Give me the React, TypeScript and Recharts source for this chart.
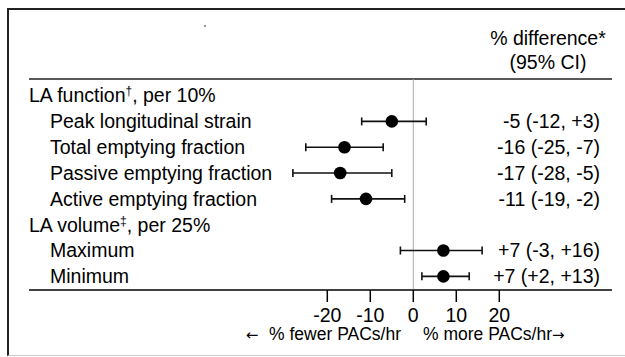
import React from "react";
import {
  ScatterChart,
  Scatter,
  XAxis,
  YAxis,
  ErrorBar,
  ReferenceLine,
  Customized,
} from "recharts";

// ---- data ----
const groupNames = ["LA function", "LA volume"];
const groupMarks = ["\u2020", "\u2021"];
const groupUnits = [", per 10%", ", per 25%"];
const groupRows = [0, 5];

const measures = [
  "Peak longitudinal strain",
  "Total emptying fraction",
  "Passive emptying fraction",
  "Active emptying fraction",
  "Maximum",
  "Minimum",
];
const measureRows = [1, 2, 3, 4, 6, 7];
const estimates = [-5, -16, -17, -11, 7, 7];
const lowerCI = [-12, -25, -28, -19, -3, 2];
const upperCI = [3, -7, -5, -2, 16, 13];

const xTicks = [-20, -10, 0, 10, 20];
const rowTicks = [0, 1, 2, 3, 4, 5, 6, 7];

const headerLines = ["% difference*", "(95% CI)"];
const captionLeft = " % fewer PACs/hr";
const captionRight = "% more PACs/hr";
const arrowLeft = "\u2190";
const arrowRight = "\u2192";

// ---- layout ----
const W = 625;
const H = 357;
const FONT = "'Liberation Sans', Arial, Helvetica, sans-serif";
const ARROW_FONT = "'DejaVu Sans', sans-serif";
const FS = 19.5;
const X_MIN = -89.37;
const X_MAX = 46.21;
const Y_MIN = -0.642;
const Y_MAX = 7.528;

const fmt = (v: number) => (v > 0 ? `+${v}` : `${v}`);

const data = measures.map((m, i) => ({
  name: m,
  x: estimates[i],
  y: measureRows[i],
  err: [estimates[i] - lowerCI[i], upperCI[i] - estimates[i]],
}));

const renderRowTick = (props: any) => {
  const { y, payload } = props;
  const row = payload.value;
  const g = groupRows.indexOf(row);
  if (g >= 0) {
    return (
      <text x={29} y={y} dy="0.35em" fontSize={FS} fill="#000" fontFamily={FONT} textAnchor="start">
        <tspan>{groupNames[g]}</tspan>
        <tspan dy={-7} fontSize={12}>{groupMarks[g]}</tspan>
        <tspan dy={7}>{groupUnits[g]}</tspan>
      </text>
    );
  }
  const i = measureRows.indexOf(row);
  if (i < 0) return <g />;
  return (
    <g>
      <text x={50} y={y} dy="0.35em" fontSize={FS} fill="#000" fontFamily={FONT} textAnchor="start">
        {measures[i]}
      </text>
      <text x={600} y={y} dy="0.35em" fontSize={FS} fill="#000" fontFamily={FONT} textAnchor="end">
        {`${fmt(estimates[i])} (${fmt(lowerCI[i])}, ${fmt(upperCI[i])})`}
      </text>
    </g>
  );
};

const Extras = () => (
  <g fontFamily={FONT} fill="#000">
    <text x={548} y={45} fontSize={FS} textAnchor="middle">{headerLines[0]}</text>
    <text x={548} y={69} fontSize={FS} textAnchor="middle">{headerLines[1]}</text>
    <text x={401} y={340} fontSize={17.5} textAnchor="end">
      <tspan fontFamily={ARROW_FONT} fontSize={15}>{arrowLeft}</tspan>
      <tspan dx={6}>{captionLeft}</tspan>
    </text>
    <text x={423} y={340} fontSize={17.5} textAnchor="start">
      <tspan>{captionRight}</tspan>
      <tspan fontFamily={ARROW_FONT} fontSize={15}>{arrowRight}</tspan>
    </text>
    <rect x={204} y={25} width={2} height={2} fill="#999" />
  </g>
);

export default function App() {
  return (
    <div
      style={{
        position: "absolute",
        left: 0,
        top: 0,
        width: W,
        height: H,
        overflow: "hidden",
        background: "#fff",
      }}
    >
      <div
        style={{
          position: "absolute",
          left: 7,
          top: 8,
          width: 700,
          height: 345,
          borderLeft: "2px solid #222",
          borderTop: "2px solid #222",
          borderBottom: "1px solid #ccc",
        }}
      />
      <div style={{ position: "absolute", left: 0, top: 0 }}>
        <ScatterChart
          width={W}
          height={H}
          margin={{ top: 79, right: 13, bottom: 37, left: 19 }}
        >
          <XAxis
            type="number"
            dataKey="x"
            domain={[X_MIN, X_MAX]}
            allowDataOverflow
            ticks={xTicks}
            interval={0}
            height={30}
            tickSize={12}
            tickMargin={6}
            axisLine={{ stroke: "#000", strokeWidth: 1.5 }}
            tickLine={{ stroke: "#000", strokeWidth: 1.5 }}
            tick={{ fill: "#000", fontSize: FS, fontFamily: FONT }}
          />
          <YAxis
            type="number"
            dataKey="y"
            domain={[Y_MIN, Y_MAX]}
            allowDataOverflow
            reversed
            ticks={rowTicks}
            interval={0}
            width={10}
            axisLine={false}
            tickLine={false}
            tick={renderRowTick}
          />
          <ReferenceLine y={Y_MIN} stroke="#222" strokeWidth={1.5} />
          <ReferenceLine x={0} stroke="#aaa" strokeWidth={1} />
          <Scatter
            data={data}
            isAnimationActive={false}
            fill="#000"
            shape={(p: any) => <circle cx={p.cx} cy={p.cy} r={6.3} fill="#000" />}
          >
            <ErrorBar
              dataKey="err"
              direction="x"
              width={4}
              stroke="#111"
              strokeWidth={1.6}
              isAnimationActive={false}
            />
          </Scatter>
          <Customized component={Extras} />
        </ScatterChart>
      </div>
    </div>
  );
}
